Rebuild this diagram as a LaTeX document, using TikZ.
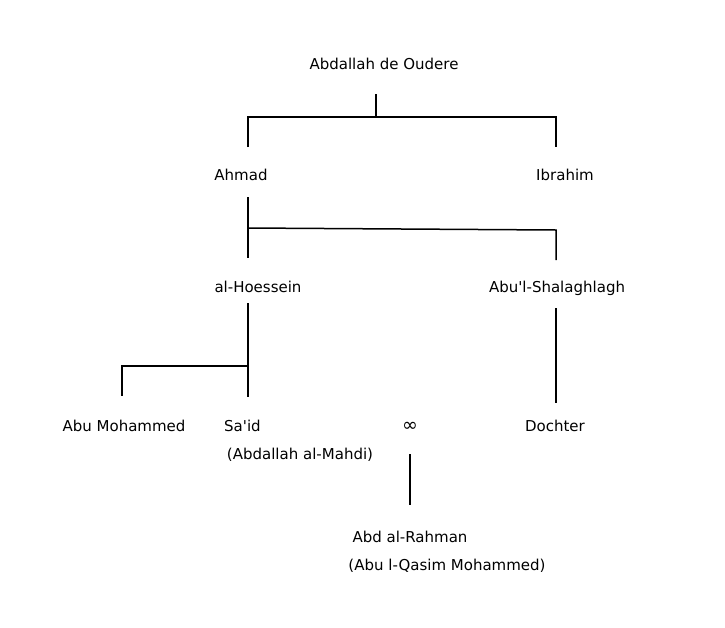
\documentclass[tikz,border=0pt]{standalone}
\usepackage{fontspec}
\setmainfont{DejaVu Sans}
\usetikzlibrary{calc}

\tikzset{
  person/.style={anchor=base,inner sep=0pt,font=\fontsize{15}{18}\selectfont},
  tie/.style={line width=1.5pt,color=black}
}

\begin{document}
\begin{tikzpicture}[x=1pt,y=-1pt]
\useasboundingbox (0,0) rectangle (725,627);

\node[person] (abdallah) at (384,69) {Abdallah de Oudere};
\node[person] (ahmad) at (241,180) {Ahmad};
\node[person] (ibrahim) at (565,180) {Ibrahim};
\node[person] (hoessein) at (258,292) {al-Hoessein};
\node[person] (shalaghlagh) at (557,292) {Abu\textquotesingle l-Shalaghlagh};
\node[person] (abumoh) at (124,431) {Abu Mohammed};
\node[person,anchor=base west] (said) at (224,431) {Sa\textquotesingle id};
\node[person] (mahdi) at (300,459) {(Abdallah al-Mahdi)};
\node[person,font=\fontsize{19}{22}\selectfont] (married) at (410,431) {∞};
\node[person] (dochter) at (555,431) {Dochter};
\node[person] (rahman) at (410,542) {Abd al-Rahman};
\node[person] (qasim) at (447,570) {(Abu l-Qasim Mohammed)};

\coordinate (abdallah-d) at (376,94);
\coordinate (bar1) at (376,117);
\coordinate (bar1-l) at (248,117);
\coordinate (bar1-r) at (556,117);
\coordinate (ahmad-u) at (248,147);
\coordinate (ibrahim-u) at (556,147);

\coordinate (ahmad-d) at (248,197);
\coordinate (bar2-l) at (248,228);
\coordinate (bar2-r) at (556,230);
\coordinate (hoessein-u) at (248,258);
\coordinate (shalaghlagh-u) at (556,260);

\coordinate (hoessein-d) at (248,303);
\coordinate (bar3-r) at (248,366);
\coordinate (bar3-l) at (122,366);
\coordinate (said-u) at (248,397);
\coordinate (abumoh-u) at (122,396);

\coordinate (shalaghlagh-d) at (556,308);
\coordinate (dochter-u) at (556,403);

\coordinate (married-d) at (410,454);
\coordinate (rahman-u) at (410,505);

\draw[tie] (abdallah-d) -- (bar1);
\draw[tie] (ahmad-u) -- (bar1-l) -- (bar1-r) -- (ibrahim-u);

\draw[tie] (ahmad-d) -- (hoessein-u);
\draw[tie] (bar2-l) -- (bar2-r) -- (shalaghlagh-u);

\draw[tie] (hoessein-d) -- (said-u);
\draw[tie] (bar3-r) -- (bar3-l) -- (abumoh-u);

\draw[tie] (shalaghlagh-d) -- (dochter-u);

\draw[tie] (married-d) -- (rahman-u);

\end{tikzpicture}
\end{document}
